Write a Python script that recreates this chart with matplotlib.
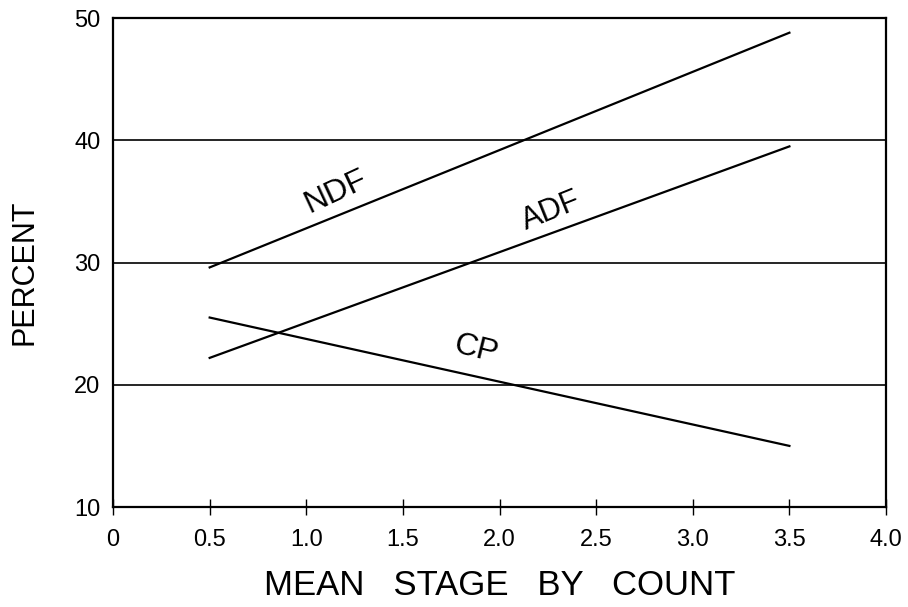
import matplotlib
matplotlib.use("Agg")
import matplotlib.pyplot as plt

plt.rcParams['font.family'] = ['Liberation Sans', 'DejaVu Sans']

stage = [0.5, 3.5]
ndf = [29.6, 48.8]
adf = [22.2, 39.5]
cp = [25.5, 15.0]

xticks = [0, 0.5, 1.0, 1.5, 2.0, 2.5, 3.0, 3.5, 4.0]
xticklabels = ["0", "0.5", "1.0", "1.5", "2.0", "2.5", "3.0", "3.5", "4.0"]
yticks = [10, 20, 30, 40, 50]
yticklabels = ["10", "20", "30", "40", "50"]

fig = plt.figure(figsize=(9.08, 6.07), dpi=100)
ax = fig.add_axes([0.1245, 0.1647, 0.8513, 0.8056])

for v in [20, 30, 40]:
    ax.axhline(v, color='black', lw=1.2, zorder=1)

for series in (ndf, adf, cp):
    ax.plot(stage, series, color='black', lw=1.6, zorder=2)

ax.text(1.155, 35.8, "NDF", rotation=25, ha='center', va='center', fontsize=23)
ax.text(2.27, 34.2, "ADF", rotation=22, ha='center', va='center', fontsize=22)
ax.text(1.88, 22.9, "CP", rotation=-14, ha='center', va='center', fontsize=23)

ax.set_xlim(0, 4.0)
ax.set_ylim(10, 50)
ax.set_xticks(xticks)
ax.set_xticklabels(xticklabels, fontsize=17)
ax.set_yticks(yticks)
ax.set_yticklabels(yticklabels, fontsize=17)
ax.tick_params(axis='x', direction='inout', length=12, width=1, pad=10)
ax.tick_params(axis='y', length=0, pad=9)
for s in ax.spines.values():
    s.set_linewidth(1.6)

ax.set_xlabel("MEAN   STAGE   BY   COUNT", fontsize=25)
ax.xaxis.set_label_coords(0.5, -0.127)
ax.set_ylabel("PERCENT", fontsize=22)
ax.yaxis.set_label_coords(-0.095, 0.48)

fig.savefig("out.png", dpi=100)
